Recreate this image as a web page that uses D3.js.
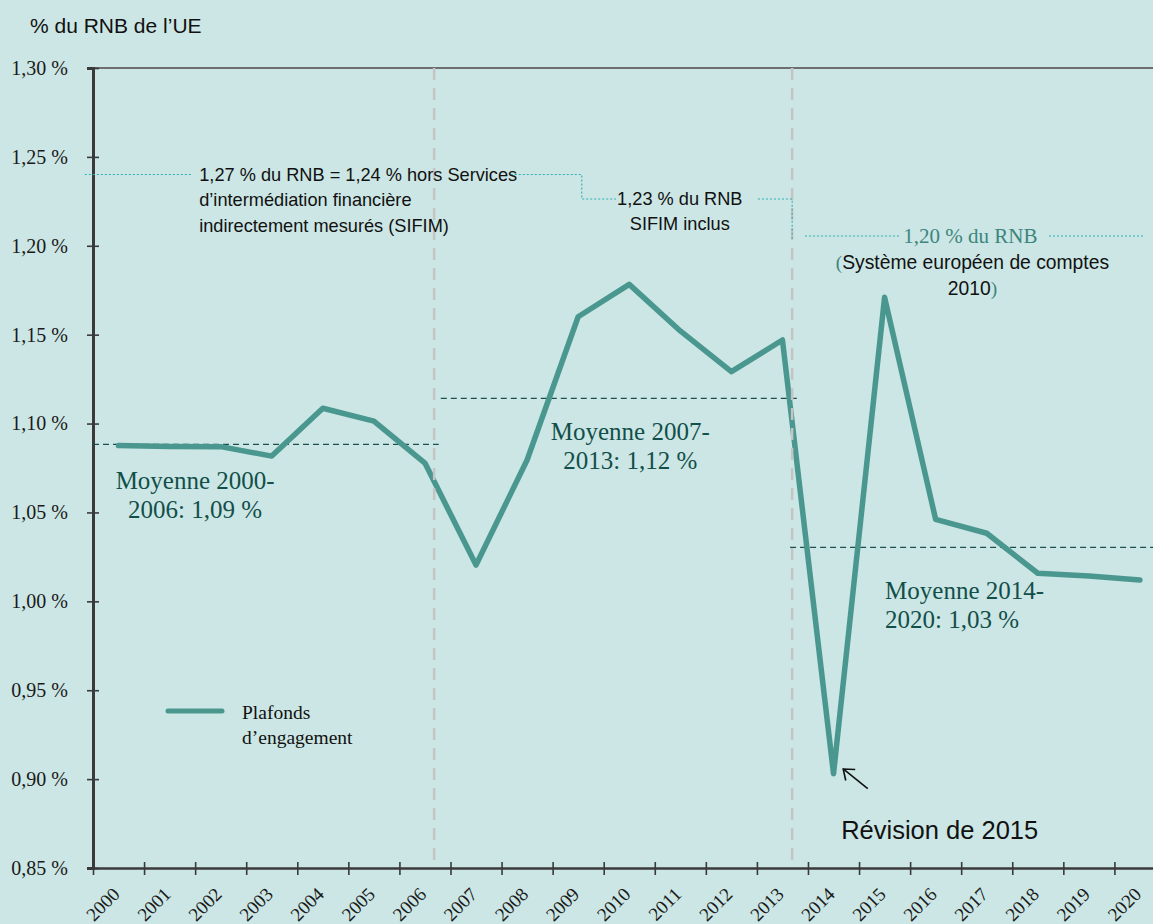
<!DOCTYPE html>
<html lang="fr">
	<head>
		<meta charset="utf-8">
		<title>Plafonds d'engagement</title>
		<script type="text/javascript" src="https://cdn.jsdelivr.net/npm/d3@7"></script>
		<style type="text/css">
			html, body{
				margin: 0;
				padding: 0;
				overflow: hidden;
				background-color: #cbe6e4;
			}
			.ylab{
				font-family: 'Liberation Serif', serif;
				font-size: 20px;
				fill: #1a1a1a;
			}
			.xlab{
				font-family: 'Liberation Serif', serif;
				font-size: 19px;
				fill: #1a1a1a;
			}
			.note{
				font-family: 'Liberation Sans', sans-serif;
				font-size: 18.2px;
				fill: #111;
			}
			.moy{
				font-family: 'Liberation Serif', serif;
				font-size: 25px;
				fill: #124f4a;
			}
		</style>
	</head>
	<body>
		<div id="chart"></div>
		<script type="text/javascript">

			var years = [2000, 2001, 2002, 2003, 2004, 2005, 2006, 2007, 2008, 2009, 2010,
			             2011, 2012, 2013, 2014, 2015, 2016, 2017, 2018, 2019, 2020];

			// plafonds d'engagement, % du RNB
			var plafonds = [1.0876, 1.0871, 1.0870, 1.0817, 1.1086, 1.1014, 1.0778, 1.0204,
			                1.0795, 1.1601, 1.1783, 1.1521, 1.1292, 1.1470, 0.9030, 1.1710,
			                1.0461, 1.0383, 1.0158, 1.0143, 1.0120];

			var yTicks = [0.85, 0.90, 0.95, 1.00, 1.05, 1.10, 1.15, 1.20, 1.25, 1.30];

			// moyennes par periode : debut, fin, valeur
			var moyStart = [1999.5, 2006.31, 2013.15];
			var moyEnd = [2006.27, 2013.29, 2020.5];
			var moyValue = [1.0883, 1.1142, 1.0304];
			var moyText = [["Moyenne 2000-", "2006: 1,09 %"],
			               ["Moyenne 2007-", "2013: 1,12 %"],
			               ["Moyenne 2014-", "2020: 1,03 %"]];

			// changements de plafond (lignes verticales grises)
			var breaks = [2006.18, 2013.19];

			var w = 1153, h = 924;
			var mLeft = 93, mTop = 68, mBottom = 868;
			var bw = 51.07;

			var svg = d3.select("#chart")
						.append("svg")
						.attr("width", w)
						.attr("height", h);

			svg.append("rect")
				.attr("width", w)
				.attr("height", h)
				.attr("fill", "#cbe6e4");

			var x = d3.scaleLinear()
						.domain([1999.5, 2020.5])
						.range([mLeft, mLeft + 21*bw]);

			var y = d3.scaleLinear()
						.domain([0.85, 1.30])
						.range([mBottom, mTop]);

			var fmt = function(v){ return v.toFixed(2).replace(".", ",") + " %"; };

			// titre de l'axe
			svg.append("text")
				.attr("x", 30)
				.attr("y", 26)
				.attr("dy", "0.35em")
				.style("font-family", "'Liberation Sans', sans-serif")
				.style("font-size", "21px")
				.attr("fill", "#111")
				.text("% du RNB de l\u2019UE");

			// bordure du haut
			svg.append("line")
				.attr("x1", mLeft).attr("x2", w)
				.attr("y1", y(1.30)).attr("y2", y(1.30))
				.attr("stroke", "#6e6e6e")
				.attr("stroke-width", 2.2);

			// axe y
			var yAxis = d3.axisLeft(y)
						.tickValues(yTicks)
						.tickSize(6)
						.tickFormat(fmt);
			var gy = svg.append("g")
						.attr("transform", "translate(" + mLeft + ",0)")
						.call(yAxis);
			gy.attr("font-family", null).attr("font-size", null);
			gy.select(".domain").attr("stroke", "#3a3a3a").attr("stroke-width", 3);
			gy.selectAll(".tick line")
				.attr("x1", -6).attr("x2", 6)
				.attr("stroke", "#3a3a3a").attr("stroke-width", 1.6);
			gy.selectAll(".tick text")
				.attr("class", "ylab")
				.attr("x", -25)
				.attr("dy", "0.32em");

			// axe x
			var xAxis = d3.axisBottom(x)
						.tickValues(d3.range(1999.5, 2021, 1))
						.tickSize(0)
						.tickFormat("");
			var gx = svg.append("g")
						.attr("transform", "translate(0," + mBottom + ")")
						.call(xAxis);
			gx.select(".domain").attr("stroke", "#3a3a3a").attr("stroke-width", 2.6);
			gx.selectAll(".tick line")
				.attr("y1", -6).attr("y2", 7)
				.attr("stroke", "#3a3a3a").attr("stroke-width", 1.6);

			svg.selectAll(".xlab")
				.data(years)
				.enter()
				.append("text")
				.attr("class", "xlab")
				.attr("text-anchor", "end")
				.attr("transform", function(d){
					return "translate(" + (x(d) - 7) + "," + (mBottom + 18) + ") rotate(-45)";
				})
				.attr("dy", "0.7em")
				.text(function(d){ return d; });

			// moyennes
			svg.selectAll(".moyline")
				.data(moyValue)
				.enter()
				.append("line")
				.attr("class", "moyline")
				.attr("x1", function(d, i){ return x(moyStart[i]); })
				.attr("x2", function(d, i){ return x(moyEnd[i]); })
				.attr("y1", function(d){ return y(d); })
				.attr("y2", function(d){ return y(d); })
				.attr("stroke", "#1d4f4b")
				.attr("stroke-width", 1.3)
				.attr("stroke-dasharray", "6,4");

			// courbe
			var line = d3.line()
						.x(function(d, i){ return x(years[i]); })
						.y(function(d){ return y(d); });

			svg.append("path")
				.datum(plafonds)
				.attr("d", line)
				.attr("fill", "none")
				.attr("stroke", "#4a978f")
				.attr("stroke-width", 5.5)
				.attr("stroke-linejoin", "round")
				.attr("stroke-linecap", "round");

			// lignes verticales grises
			svg.selectAll(".brk")
				.data(breaks)
				.enter()
				.append("line")
				.attr("class", "brk")
				.attr("x1", function(d){ return x(d); })
				.attr("x2", function(d){ return x(d); })
				.attr("y1", y(1.30))
				.attr("y2", mBottom)
				.attr("stroke", "#c4c4c4")
				.attr("stroke-width", 2.5)
				.attr("stroke-dasharray", "12,8");

			// libelles des moyennes
			var moyPos = [[2001.5, 1.0683, "middle"], [2010.02, 1.0954, "middle"], [2015.01, 1.0064, "start"]];
			moyText.forEach(function(t, i){
				var lab = svg.append("text")
							.attr("class", "moy")
							.attr("text-anchor", moyPos[i][2])
							.attr("x", x(moyPos[i][0]))
							.attr("y", y(moyPos[i][1]));
				t.forEach(function(s, k){
					lab.append("tspan")
						.attr("x", x(moyPos[i][0]))
						.attr("dy", k == 0 ? "0.35em" : "29px")
						.text(s);
				});
			});

			// annotations des plafonds (pointilles)
			var dots = "#2fb1b1";
			var notePath = [
				[[1999.34, 1.2401], [2001.44, 1.2401]],
				[[2007.68, 1.2401], [2009.07, 1.2401], [2009.07, 1.2263], [2009.74, 1.2263]],
				[[2012.52, 1.2263], [2013.19, 1.2263], [2013.19, 1.2038]],
				[[2013.44, 1.2055], [2015.32, 1.2055]],
				[[2018.22, 1.2055], [2020.06, 1.2055]]
			];
			var noteLine = d3.line()
						.x(function(d){ return x(d[0]); })
						.y(function(d){ return y(d[1]); });
			svg.selectAll(".notepath")
				.data(notePath)
				.enter()
				.append("path")
				.attr("class", "notepath")
				.attr("d", noteLine)
				.attr("fill", "none")
				.attr("stroke", dots)
				.attr("stroke-width", 1.1)
				.attr("stroke-dasharray", "2,2");

			var note1 = ["1,27 % du RNB = 1,24 % hors Services",
			             "d\u2019interm\u00e9diation financi\u00e8re",
			             "indirectement mesur\u00e9s (SIFIM)"];
			var t1 = svg.append("text").attr("class", "note")
						.attr("x", x(2001.58)).attr("y", y(1.2401));
			note1.forEach(function(s, k){
				t1.append("tspan").attr("x", x(2001.58))
					.attr("dy", k == 0 ? "0.35em" : "25.5px").text(s);
			});

			var note2 = ["1,23 % du RNB", "SIFIM inclus"];
			var t2 = svg.append("text").attr("class", "note")
						.attr("text-anchor", "middle")
						.attr("x", x(2010.99)).attr("y", y(1.2263));
			note2.forEach(function(s, k){
				t2.append("tspan").attr("x", x(2010.99))
					.attr("dy", k == 0 ? "0.35em" : "24.5px").text(s);
			});

			svg.append("text")
				.attr("x", x(2016.68)).attr("y", y(1.2055))
				.attr("dy", "0.35em")
				.attr("text-anchor", "middle")
				.style("font-family", "'Liberation Serif', serif")
				.style("font-size", "21px")
				.attr("fill", "#3d857d")
				.text("1,20 % du RNB");

			var t3 = svg.append("text").attr("class", "note")
						.attr("text-anchor", "middle")
						.style("font-size", "19.3px")
						.attr("x", x(2016.72)).attr("y", y(1.1908));
			var p1 = t3.append("tspan").attr("x", x(2016.72)).attr("dy", "0.35em");
			p1.append("tspan").attr("fill", "#3d857d").style("font-family", "'Liberation Serif', serif").text("(");
			p1.append("tspan").text("Syst\u00e8me europ\u00e9en de comptes");
			var p2 = t3.append("tspan").attr("x", x(2016.72)).attr("dy", "26px");
			p2.append("tspan").text("2010");
			p2.append("tspan").attr("fill", "#3d857d").style("font-family", "'Liberation Serif', serif").text(")");

			// revision 2015
			svg.append("text")
				.attr("class", "note")
				.attr("x", x(2014.15))
				.attr("y", y(0.8714))
				.attr("dy", "0.35em")
				.style("font-size", "25.5px")
				.text("R\u00e9vision de 2015");

			var arrow = [[2014.67, 0.8947], [2014.19, 0.9057]];
			svg.append("line")
				.attr("x1", x(arrow[0][0])).attr("y1", y(arrow[0][1]))
				.attr("x2", x(arrow[1][0])).attr("y2", y(arrow[1][1]))
				.attr("stroke", "#111").attr("stroke-width", 1.6);
			var tipX = x(arrow[1][0]), tipY = y(arrow[1][1]);
			svg.append("path")
				.attr("d", "M" + (tipX + 12) + "," + (tipY + 0.5) + "L" + tipX + "," + tipY + "L" + (tipX + 2.5) + "," + (tipY + 11.5))
				.attr("fill", "none")
				.attr("stroke", "#111").attr("stroke-width", 1.6);

			// legende
			var lg = svg.append("g").attr("transform", "translate(168,711)");
			lg.append("line")
				.attr("x1", 0).attr("x2", 54)
				.attr("stroke", "#4a978f")
				.attr("stroke-width", 5)
				.attr("stroke-linecap", "round");
			var lt = lg.append("text")
						.attr("x", 74)
						.attr("y", 1)
						.style("font-family", "'Liberation Serif', serif")
						.style("font-size", "19.5px")
						.attr("fill", "#111");
			["Plafonds", "d\u2019engagement"].forEach(function(s, k){
				lt.append("tspan").attr("x", 74).attr("dy", k == 0 ? "0.35em" : "25px").text(s);
			});

		</script>
	</body>
</html>
